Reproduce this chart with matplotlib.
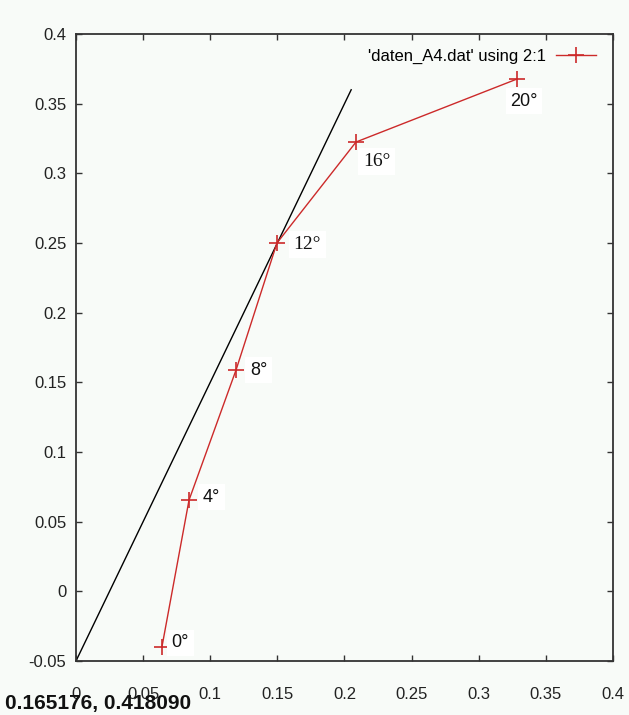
"""Angle sweep from daten_A4.dat with a tangent line through the origin region."""

import matplotlib
matplotlib.use("Agg")
import matplotlib.pyplot as plt

# data (column 2 on x, column 1 on y)
x_vals = [0.064, 0.0842, 0.1192, 0.1497, 0.2086, 0.3285]
y_vals = [-0.040, 0.0655, 0.1588, 0.250, 0.3225, 0.3677]
angle_labels = ["0°", "4°", "8°", "12°", "16°", "20°"]

# straight reference line y = 2x - 0.05
line_x = [0.0, 0.205]
line_y = [-0.05, 0.36]

x_ticks = [0, 0.05, 0.1, 0.15, 0.2, 0.25, 0.3, 0.35, 0.4]
x_tick_labels = ["0", "0.05", "0.1", "0.15", "0.2", "0.25", "0.3", "0.35", "0.4"]
y_ticks = [-0.05, 0, 0.05, 0.1, 0.15, 0.2, 0.25, 0.3, 0.35, 0.4]
y_tick_labels = ["-0.05", "0", "0.05", "0.1", "0.15", "0.2", "0.25", "0.3", "0.35", "0.4"]

legend_text = "'daten_A4.dat' using 2:1"
cursor_text = "0.165176, 0.418090"

BG = "#f8fbf8"
RED = "#cc2a2a"
EDGE = "#333333"

plt.rcParams.update({
    "font.family": ["Liberation Sans", "DejaVu Sans"],
    "font.size": 12,
})

fig = plt.figure(figsize=(6.29, 7.15), dpi=100, facecolor=BG)
ax = fig.add_axes([0.1208, 0.0755, 0.8537, 0.8769])
ax.set_facecolor(BG)

ax.plot(line_x, line_y, color="black", linewidth=1.0)
ax.plot(x_vals, y_vals, color=RED, linewidth=1.0, marker="+",
        markersize=11, markeredgewidth=1.2, label=legend_text)

# angle annotations, boxed on white like the original
offsets = {
    "0°": (7, 3, "left", "center", "sans"),
    "4°": (10, 2, "left", "center", "sans"),
    "8°": (10, 0, "left", "center", "sans"),
    "12°": (12, -1, "left", "center", "serif"),
    "16°": (5, -14, "left", "center", "serif"),
    "20°": (5, -16, "center", "center", "sans"),
}
for xv, yv, lab in zip(x_vals, y_vals, angle_labels):
    dx, dy, ha, va, fam = offsets[lab]
    family = ["Liberation Serif", "DejaVu Serif"] if fam == "serif" else ["Liberation Sans", "DejaVu Sans"]
    ax.annotate(lab, (xv, yv), xytext=(dx, dy), textcoords="offset points",
                ha=ha, va=va, fontsize=14 if fam == "serif" else 13,
                family=family, color="#111111",
                bbox=dict(boxstyle="square,pad=0.25", facecolor="white", edgecolor="none"))

ax.set_xlim(0, 0.4)
ax.set_ylim(-0.05, 0.4)
ax.set_xticks(x_ticks)
ax.set_xticklabels(x_tick_labels)
ax.set_yticks(y_ticks)
ax.set_yticklabels(y_tick_labels)
ax.tick_params(direction="in", length=4, width=1, colors=EDGE, labelcolor="#222222",
               top=True, right=True, labelsize=12, pad=7)
ax.tick_params(axis="x", pad=19)
for spine in ax.spines.values():
    spine.set_color(EDGE)
    spine.set_linewidth(1.3)

leg = ax.legend(loc="upper right", frameon=False, markerfirst=False,
                handlelength=2.4, fontsize=12, borderaxespad=0.3,
                handletextpad=0.6, bbox_to_anchor=(0.99, 0.995))

fig.text(0.008, 0.008, cursor_text, fontsize=15, fontweight="bold",
         family=["Liberation Sans", "DejaVu Sans"], color="#111111")

fig.savefig("out.png", dpi=100, facecolor=BG)
